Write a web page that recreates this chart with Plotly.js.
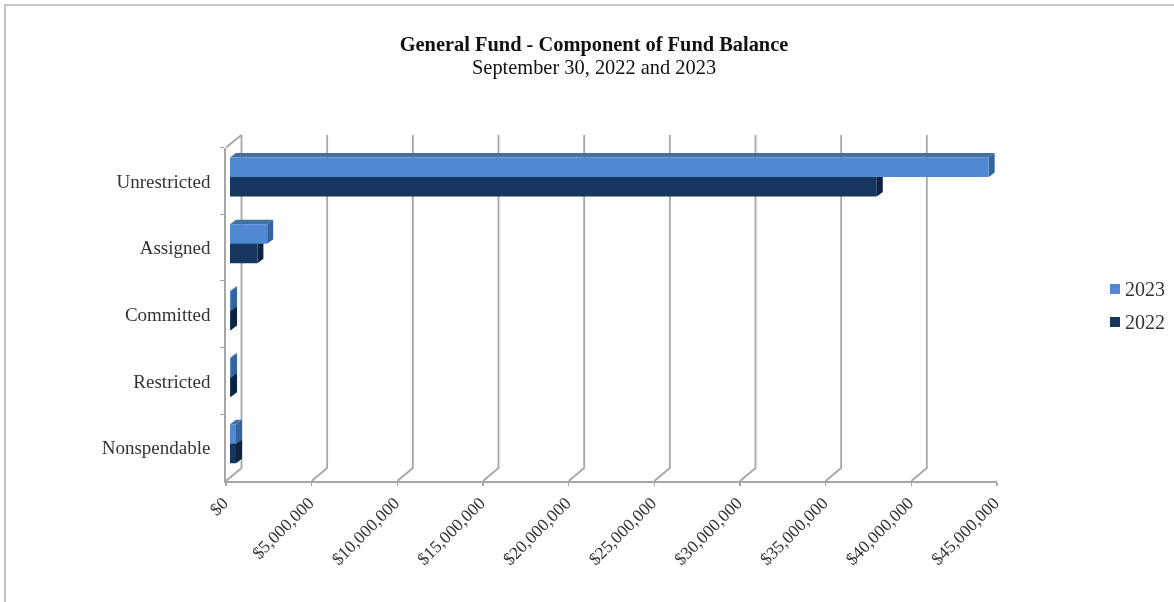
<!DOCTYPE html>
<html><head><meta charset="utf-8">
<script src="https://cdn.plot.ly/plotly-3.0.1.min.js"></script>
<style>html,body{margin:0;padding:0;background:#fff}#c{filter:blur(0.7px)}</style>
</head><body><div id="c" style="width:1174px;height:602px"></div>
<script>
const categories = ["Unrestricted","Assigned","Committed","Restricted","Nonspendable"];
const seriesNames = ["2023","2022"];
const values2023 = [44280000, 2170000, 60000, 60000, 350000];
const values2022 = [37750000, 1600000, 60000, 60000, 350000];
const tickVals = [0,5000000,10000000,15000000,20000000,25000000,30000000,35000000,40000000,45000000];
const tickLabels = ["$0","$5,000,000","$10,000,000","$15,000,000","$20,000,000","$25,000,000","$30,000,000","$35,000,000","$40,000,000","$45,000,000"];
const titleLine = "General Fund - Component of Fund Balance";
const subtitleLine = "September 30, 2022 and 2023";

const W=1174,H=602,FONT='"Liberation Serif",serif',GRID='#a6a6a6';
const COL23='#5088d4',COL22='#17365f';
const fx=p=>p/W, fy=p=>1-p/H;
const xPerPx=45000000/771, catPerPx=1/66.7;
const wallDx=15.5*xPerPx, wallTop=147.5, wallBottom=481, wallRise=13;
const barDx=6*xPerPx, barDy=4.5*catPerPx, barH=19.5*catPerPx;
const shapes=[];
shapes.push({type:'path',xref:'paper',yref:'paper',layer:'below',
  path:`M${fx(5)},0 L${fx(5)},${fy(5)} L1,${fy(5)}`,line:{color:'#c4c4c4',width:2}});
tickVals.forEach(t=>{
  shapes.push({type:'path',xref:'x',yref:'paper',layer:'below',
    path:`M${t},${fy(wallBottom)} L${t+wallDx},${fy(wallBottom-wallRise)} L${t+wallDx},${fy(wallTop-12.5)}`,
    line:{color:GRID,width:1.8}});
});
shapes.push({type:'path',xref:'x',yref:'paper',layer:'below',
  path:`M0,${fy(wallTop)} L${wallDx},${fy(wallTop-12.5)}`,line:{color:GRID,width:1.8}});
function faces(vals,topOff,sideCol,topCol){
  vals.forEach((v,i)=>{
    const yT=i+topOff, yB=yT+barH;
    shapes.push({type:'path',xref:'x2',yref:'y2',layer:'below',fillcolor:topCol,line:{width:0},
      path:`M0,${yT} L${v},${yT} L${v+barDx},${yT-barDy} L${barDx},${yT-barDy} Z`});
    shapes.push({type:'path',xref:'x2',yref:'y2',layer:'below',fillcolor:sideCol,line:{width:0},
      path:`M${v},${yT} L${v+barDx},${yT-barDy} L${v+barDx},${yB-barDy} L${v},${yB} Z`});
  });
}
faces(values2022,0,'#0e2340','#12294a');
faces(values2023,-barH,'#35639e','#42719f');

const annotations=[{xref:'paper',yref:'paper',x:594/W,y:fy(68),xanchor:'center',yanchor:'middle',showarrow:false,
  text:subtitleLine,font:{family:FONT,size:20.4,color:'#111'}}];
seriesNames.forEach((n,i)=>{
  const cy=289+i*33;
  shapes.push({type:'rect',xref:'paper',yref:'paper',x0:fx(1110),x1:fx(1120),y0:fy(cy+5),y1:fy(cy-5),
    fillcolor:i===0?COL23:COL22,line:{width:0}});
  annotations.push({xref:'paper',yref:'paper',x:fx(1123),y:fy(cy),xanchor:'left',yanchor:'middle',showarrow:false,
    text:n,font:{family:FONT,size:20,color:'#333'}});
});

const traces=[
 {type:'scatter',mode:'none',x:tickVals.slice(0,5),y:categories,xaxis:'x',yaxis:'y',showlegend:false,hoverinfo:'skip'},
 {type:'bar',orientation:'h',name:seriesNames[0],y:categories,x:values2023,xaxis:'x2',yaxis:'y2',marker:{color:COL23},showlegend:false},
 {type:'bar',orientation:'h',name:seriesNames[1],y:categories,x:values2022,xaxis:'x2',yaxis:'y2',marker:{color:COL22},showlegend:false}
];
const layout={
 width:W,height:H,margin:{l:0,r:0,t:0,b:0},paper_bgcolor:'#fff',plot_bgcolor:'rgba(0,0,0,0)',
 font:{family:FONT,color:'#222'},
 title:{text:'<b>'+titleLine+'</b>',
   x:594/W,xanchor:'center',y:fy(44),yanchor:'middle',font:{family:FONT,size:20.4,color:'#111'}},
 barmode:'group',bargap:0.415,bargroupgap:0,
 xaxis:{domain:[fx(226),fx(997)],range:[0,45000000],anchor:'y',tickmode:'array',tickvals:tickVals,ticktext:tickLabels,
   tickangle:-45,tickfont:{family:FONT,size:17.5,color:'#333'},showgrid:false,zeroline:false,showline:true,linecolor:GRID,linewidth:1.8,
   ticks:'outside',ticklen:3,tickcolor:GRID,tickwidth:1.5,ticklabelshift:-3,fixedrange:true,automargin:false},
 yaxis:{domain:[fy(wallBottom),fy(wallTop)],type:'category',categoryorder:'array',categoryarray:categories,range:[4.5,-0.5],anchor:'x',
   showgrid:false,zeroline:false,showline:true,linecolor:GRID,linewidth:1.8,ticks:'outside',ticklen:4,tickcolor:GRID,tickson:'boundaries',
   tickfont:{family:FONT,size:19,color:'#333'},ticklabelstandoff:10,fixedrange:true,automargin:false},
 xaxis2:{domain:[fx(230),fx(1001)],range:[0,45000000],anchor:'y2',visible:false,fixedrange:true},
 yaxis2:{domain:[fy(477.2),fy(143.7)],type:'category',categoryorder:'array',categoryarray:categories,range:[4.5,-0.5],anchor:'x2',visible:false,fixedrange:true},
 shapes:shapes,annotations:annotations,
 showlegend:false
};
Plotly.newPlot('c',traces,layout,{displayModeBar:false,staticPlot:true});
</script></body></html>
